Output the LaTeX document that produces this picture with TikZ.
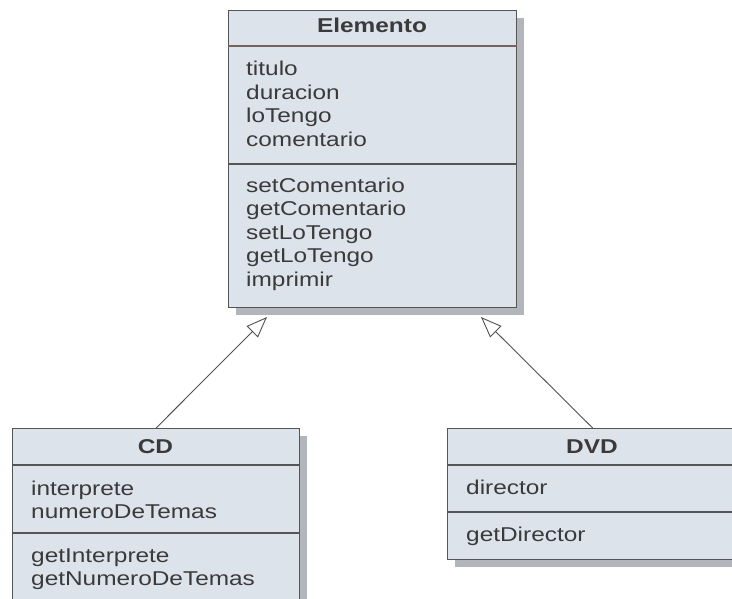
\documentclass[tikz,border=0pt]{standalone}
\usepackage{fontspec}
\setmainfont{Liberation Sans}[FakeStretch=1.22]
\usetikzlibrary{arrows.meta,shadows}

\definecolor{boxfill}{HTML}{DDE3EB}
\definecolor{boxline}{HTML}{555555}
\definecolor{headline}{HTML}{7A625C}
\definecolor{shade}{HTML}{B2B6BC}
\definecolor{ink}{HTML}{3A3A3A}
\definecolor{wire}{HTML}{505050}

\tikzset{
  classbox/.style={draw=boxline, fill=boxfill, line width=1.3pt, inner sep=0pt,
    anchor=north west,
    drop shadow={shadow xshift=7pt, shadow yshift=-7pt, fill=shade, opacity=1}},
  title/.style={anchor=base, inner sep=0pt, text=ink,
    font=\fontsize{20}{24}\selectfont\bfseries},
  member/.style={anchor=base west, inner sep=0pt, text=ink,
    font=\fontsize{20}{24}\selectfont},
  headsep/.style={draw=headline, line width=1.1pt},
  compsep/.style={draw=boxline, line width=1.1pt},
  inherits/.style={draw=wire, line width=0.9pt,
    -{Triangle[open, length=21pt, width=16pt, line width=0.9pt]}}
}

\begin{document}
\begin{tikzpicture}[x=1pt, y=-1pt]
\useasboundingbox (0,0) rectangle (732,599);
\clip (0,0) rectangle (732,599);

% ---- Elemento ----
\node[classbox, minimum width=288pt, minimum height=297pt] (elem) at (228,10) {};
\draw[headsep] (elem.west |- 0,46) -- (elem.east |- 0,46);
\draw[compsep] (elem.west |- 0,164) -- (elem.east |- 0,164);
\node[title] (elemT) at (372,33) {Elemento};
\node[member] (e1) at (246,76) {titulo};
\node[member] (e2) at (246,99.5) {duracion};
\node[member] (e3) at (246,123) {loTengo};
\node[member] (e4) at (246,146.5) {comentario};
\node[member] (e5) at (246,192.5) {setComentario};
\node[member] (e6) at (246,216) {getComentario};
\node[member] (e7) at (246,239.5) {setLoTengo};
\node[member] (e8) at (246,263) {getLoTengo};
\node[member] (e9) at (246,286.5) {imprimir};

% ---- CD ----
\node[classbox, minimum width=287pt, minimum height=200pt] (cd) at (12,428) {};
\draw[compsep] (cd.west |- 0,465) -- (cd.east |- 0,465);
\draw[compsep] (cd.west |- 0,533) -- (cd.east |- 0,533);
\node[title] (cdT) at (155.5,453) {CD};
\node[member] (c1) at (31,495) {interprete};
\node[member] (c2) at (31,518) {numeroDeTemas};
\node[member] (c3) at (31,562) {getInterprete};
\node[member] (c4) at (31,585) {getNumeroDeTemas};

% ---- DVD ----
\node[classbox, minimum width=290pt, minimum height=131pt] (dvd) at (447,428) {};
\draw[compsep] (dvd.west |- 0,465) -- (dvd.east |- 0,465);
\draw[compsep] (dvd.west |- 0,512) -- (dvd.east |- 0,512);
\node[title] (dvdT) at (592,453) {DVD};
\node[member] (d1) at (466,494) {director};
\node[member] (d2) at (466,541) {getDirector};

% ---- generalisation arrows ----
\coordinate (tipCD) at (267,317);
\coordinate (tipDVD) at (481,317);
\draw[inherits] (cd.north) -- (tipCD);
\draw[inherits] (dvd.north) -- (tipDVD);
\end{tikzpicture}
\end{document}
